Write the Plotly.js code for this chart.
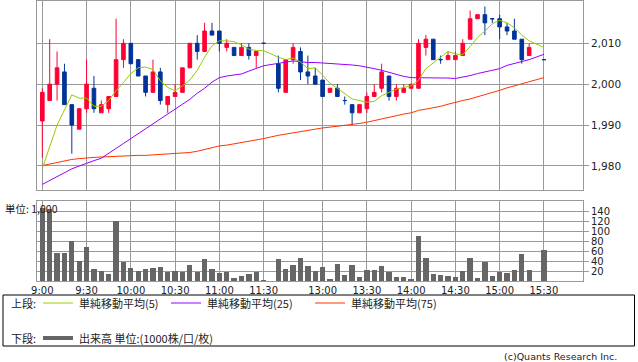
<!DOCTYPE html>
<html><head><meta charset="utf-8">
<script src="https://cdn.plot.ly/plotly-3.0.1.min.js"></script>
<style>html,body{margin:0;padding:0;background:#fff;}#chart{width:638px;height:362px;}</style>
</head><body><div id="chart"></div>
<script>
// 5-minute slots (0 = 9:00). Slot 31 (lunch) and 67 (pre-close) are empty.
const slots = [0,1,2,3,4,5,6,7,8,9,10,11,12,13,14,15,16,17,18,19,20,21,22,23,24,25,26,27,28,29,30,
  32,33,34,35,36,37,38,39,40,41,42,43,44,45,46,47,48,49,50,51,52,53,54,55,56,57,58,59,60,61,62,63,64,65,66,68];
const openP  = [1991,1996,2000,2003,1995,1989,1994,1999,1993,1994,1997,2006,2010,2006,2002,1998,2003,1995,1997,1998,2004,2010,2008,2013,2013,2009,2009,2007,2009,2007,2010,
  2005,1998,2006,2008,2003,2002,2001,1998,1999,1996,1995,1993,1994,1997,1999,2002,1997,1998,1999,1999,2009,2011,2006,2006,2006,2007,2011,2016,2017,2016,2016,2014,2013,2011,2007,2006];
const highP  = [1999,2011,2008,2005,1995,1994,2006,2002,1996,1997,2016,2011,2010,2006,2002,2006,2004,1997,2000,2004,2010,2012,2015,2015,2013,2011,2009,2010,2010,2008,2010,
  2007,2006,2010,2009,2007,2004,2001,1999,2000,1997,1995,1995,1998,2000,2005,2002,2000,2000,2000,2011,2012,2011,2007,2008,2008,2011,2018,2017,2019,2016,2017,2015,2016,2011,2010,2006];
const lowP   = [1982,1996,1996,1995,1983,1989,1993,1993,1993,1993,1997,2004,2005,2002,1997,1998,1995,1993,1997,1998,2004,2006,2008,2012,2008,2008,2007,2007,2006,2004,2010,
  1998,1998,2005,2001,2000,2000,1997,1998,1997,1995,1990,1993,1993,1997,1998,1996,1996,1998,1999,1999,2007,2006,2005,2006,2006,2007,2011,2016,2012,2015,2011,2012,2011,2005,2007,2006];
const closeP = [1998,2000,2004,1995,1990,1994,2000,1994,1995,1997,2006,2010,2005,2002,1998,2003,1996,1997,1998,2004,2010,2008,2013,2012,2010,2010,2007,2009,2007,2008,2010,
  1999,2006,2009,2003,2002,2000,1997,1999,1997,1996,1993,1995,1997,1998,2003,1997,1999,1999,2000,2010,2011,2006,2006,2007,2007,2010,2016,2017,2015,2016,2014,2013,2011,2006,2009,2006];
const volume = [146,145,56,56,81,41,68,24,21,14,121,38,26,21,24,26,28,18,21,18,32,18,44,24,16,18,6,10,14,18,2,
  44,24,32,46,30,21,28,5,34,12,32,8,22,22,30,18,8,8,4,90,46,14,12,10,8,21,46,6,38,10,18,16,22,54,22,62];
const ma5  = [1979.4,1984.7,1990.0,1993.7,1997.4,1996.6,1996.6,1994.6,1994.6,1996.0,1998.4,2000.4,2002.6,2004.0,2004.2,2003.6,2000.8,1999.2,1998.4,1999.6,2001.0,2003.4,2006.6,2009.4,2010.6,2010.6,2010.4,2009.6,2008.6,2008.2,2008.2,
  2006.6,2006.0,2006.4,2005.4,2003.8,2004.0,2002.2,2000.2,1999.0,1997.8,1996.4,1996.0,1995.6,1995.8,1997.2,1998.0,1998.8,1999.2,1999.6,2001.0,2003.8,2005.2,2006.6,2008.0,2007.4,2007.2,2009.2,2011.4,2013.0,2014.8,2015.6,2015.0,2013.8,2012.0,2010.6,2009.0];
const ma25 = [1975.5,1976.5,1977.4,1978.4,1979.3,1980.0,1980.7,1981.3,1981.9,1983.0,1984.3,1985.5,1986.7,1988.0,1989.2,1990.4,1991.6,1992.6,1993.8,1995.2,1996.3,1997.8,1999.0,2000.5,2001.6,2002.0,2002.2,2002.5,2003.2,2003.9,2004.5,
  2005.1,2005.4,2005.7,2005.5,2005.3,2005.3,2005.2,2005.1,2004.9,2004.8,2004.7,2004.5,2004.2,2003.8,2003.4,2002.9,2002.4,2001.9,2001.6,2001.6,2001.6,2001.6,2001.6,2001.5,2001.4,2001.7,2002.1,2002.6,2003.0,2003.4,2003.8,2004.6,2005.1,2005.6,2006.0,2007.3];
const ma75 = [1980.1,1980.5,1980.8,1981.2,1981.6,1981.8,1982.0,1982.1,1982.2,1982.3,1982.4,1982.4,1982.5,1982.6,1982.6,1982.7,1982.8,1982.9,1983.0,1983.2,1983.3,1983.6,1984.0,1984.4,1984.9,1985.1,1985.4,1985.8,1986.1,1986.4,1986.7,
  1987.5,1987.8,1988.1,1988.5,1988.8,1989.0,1989.3,1989.5,1989.7,1989.9,1990.1,1990.4,1990.7,1991.1,1991.6,1992.0,1992.3,1992.7,1993.0,1993.6,1993.9,1994.2,1994.6,1995.1,1995.6,1996.0,1996.4,1996.9,1997.4,1998.0,1998.5,1999.1,1999.6,2000.2,2000.7,2001.6];
const tickSlots  = [0,6,12,18,24,30,38,44,50,56,62,68];
const tickLabels = ['9:00','9:30','10:00','10:30','11:00','11:30','13:00','13:30','14:00','14:30','15:00','15:30'];
const priceTicks  = [1980,1990,2000,2010];
const volumeTicks = [20,40,60,80,100,120,140];

const RED='#ff0033', BLUE='#003399', C5='#99cc00', C25='#9900ff', C75='#ff3300', VOL='#666666', GRID='#999999';
const FONT='DejaVu Sans', JP='Noto Sans CJK JP';

function pick(arr, idx){ return idx.map(i=>arr[i]); }
const upIdx=[], dnIdx=[];
closeP.forEach((c,i)=>{ (c>openP[i]?upIdx:dnIdx).push(i); });
function candle(idx,color){
  return {type:'candlestick', x:pick(slots,idx), open:pick(openP,idx), high:pick(highP,idx), low:pick(lowP,idx), close:pick(closeP,idx),
    increasing:{line:{color:color,width:1},fillcolor:color}, decreasing:{line:{color:color,width:1},fillcolor:color},
    whiskerwidth:0, hoverinfo:'skip', showlegend:false, xaxis:'x', yaxis:'y'};
}
function maLine(y,color){
  return {type:'scatter', mode:'lines', x:slots, y:y, line:{color:color,width:1}, hoverinfo:'skip', showlegend:false, xaxis:'x', yaxis:'y'};
}
const data=[
  maLine(ma75,C75), maLine(ma25,C25), maLine(ma5,C5),
  candle(upIdx,RED), candle(dnIdx,BLUE),
  {type:'bar', x:slots, y:volume, width:0.72, marker:{color:VOL,line:{width:0}}, hoverinfo:'skip', showlegend:false, xaxis:'x2', yaxis:'y2'}
];

// pixel -> paper helpers (plot area: x 37..583, y 1..281)
const L=37, R=583, T=1, B=281;
const fx=px=>(px-L)/(R-L), fy=py=>(B-py)/(B-T);

const shapes=[
  {type:'rect', xref:'paper', yref:'paper', x0:fx(3), x1:fx(634.5), y0:fy(346), y1:fy(295), line:{color:'#000',width:1}, fillcolor:'rgba(0,0,0,0)'},
  {type:'line', xref:'paper', yref:'paper', x0:fx(43), x1:fx(73), y0:fy(303), y1:fy(303), line:{color:C5,width:1}},
  {type:'line', xref:'paper', yref:'paper', x0:fx(171), x1:fx(201), y0:fy(303), y1:fy(303), line:{color:C25,width:1}},
  {type:'line', xref:'paper', yref:'paper', x0:fx(315), x1:fx(345), y0:fy(303), y1:fy(303), line:{color:C75,width:1}},
  {type:'line', xref:'paper', yref:'paper', x0:fx(43), x1:fx(73), y0:fy(338), y1:fy(338), line:{color:VOL,width:4}}
];
function txt(s,px,py,size,font,anchor){
  return {text:s, xref:'paper', yref:'paper', x:fx(px), y:fy(py), xanchor:anchor||'left', yanchor:'middle', showarrow:false,
    font:{family:font||JP, size:size||11, color:'#222'}};
}
const annotations=[
  txt('上段:',9,303), txt('単純移動平均(5)',77,303), txt('単純移動平均(25)',205,303), txt('単純移動平均(75)',349,303),
  txt('下段:',9,338), txt('出来高 単位:(1000株/口/枚)',77,338),
  txt('単位: 1,000',3,208,10.5),
  txt('(c)Quants Research Inc.',619,356,9.5,FONT,'right')
];

const axisCommon={showline:true, mirror:true, linecolor:GRID, linewidth:1, gridcolor:GRID, gridwidth:1, zeroline:false, fixedrange:true};
const layout={
  width:638, height:362, margin:{l:L, r:638-R, t:T, b:362-B}, paper_bgcolor:'#fff', plot_bgcolor:'#fff', showlegend:false,
  font:{family:FONT, size:10, color:'#222'},
  xaxis:Object.assign({}, axisCommon, {range:[-0.72,73.3], domain:[0,1], anchor:'y', tickmode:'array', tickvals:tickSlots, showticklabels:false, ticks:'', rangeslider:{visible:false}}),
  yaxis:Object.assign({}, axisCommon, {domain:[fy(190),1], range:[1974.13,2020.34], side:'right', anchor:'x', tickmode:'array', tickvals:priceTicks, tickformat:',d', ticks:'outside', ticklen:5, tickcolor:GRID, tickfont:{family:FONT,size:10.5,color:'#222'}}),
  xaxis2:Object.assign({}, axisCommon, {range:[-0.72,73.3], domain:[0,1], anchor:'y2', tickmode:'array', tickvals:tickSlots, ticktext:tickLabels, ticks:'', tickfont:{family:FONT,size:10,color:'#222'}}),
  yaxis2:Object.assign({}, axisCommon, {domain:[0,fy(201)], range:[0,160], side:'right', anchor:'x2', tickmode:'array', tickvals:volumeTicks, ticks:'outside', ticklen:5, tickcolor:GRID, tickfont:{family:FONT,size:10,color:'#222'}}),
  shapes:shapes, annotations:annotations, bargap:0
};
Plotly.newPlot('chart', data, layout, {staticPlot:true, displayModeBar:false});
</script></body></html>
